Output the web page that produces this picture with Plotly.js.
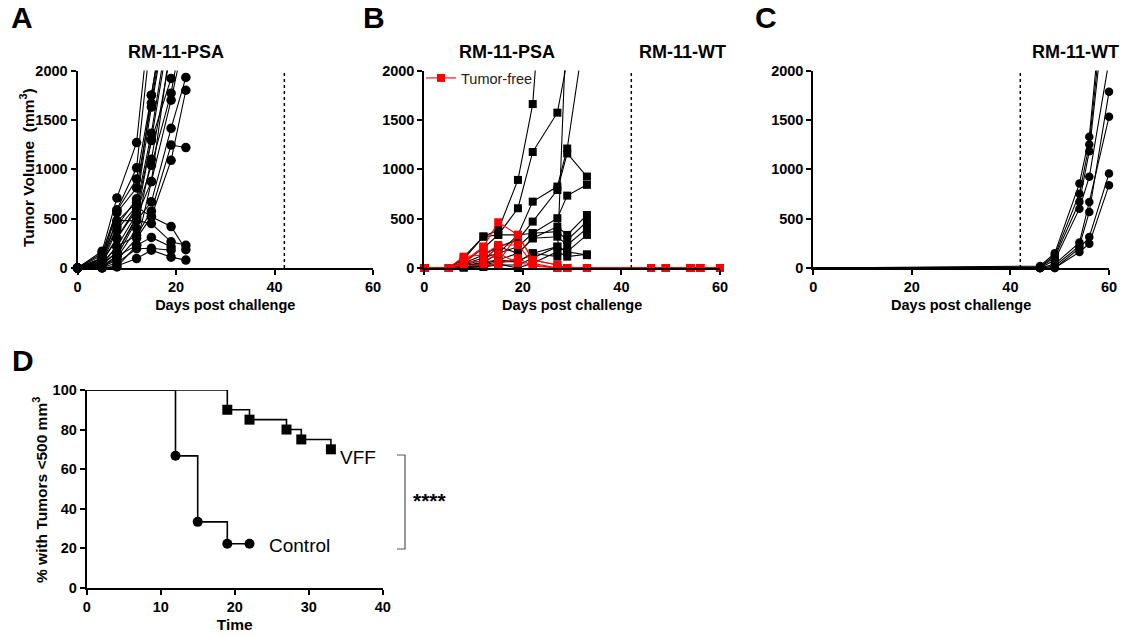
<!DOCTYPE html>
<html><head><meta charset="utf-8">
<script src="https://cdn.plot.ly/plotly-3.0.1.min.js"></script>
<style>html,body{margin:0;padding:0;background:#fff}#chart{width:1125px;height:637px}</style>
</head><body><div id="chart"></div>
<script>
// ---------- DATA ----------
const daysA = [0,5,8,12,15,19,22];
const miceA = [
  [0,170,710,1270,2700],
  [0,130,590,1015,2400],
  [0,150,580,900,1750,3000],
  [0,100,560,810,1670,2900],
  [0,90,470,665,1630,2800],
  [0,60,385,630,1365,2600],
  [0,70,300,590,1290,1920],
  [0,40,215,550,1040,1770,2600],
  [0,30,160,520,875,1700,2400],
  [0,20,120,480,670,1415,1930],
  [0,50,215,330,575,1245,1220],
  [0,10,80,300,520,1090,1800],
  [0,100,480,480,450,265,230],
  [0,60,300,620,520,420,185],
  [0,20,120,230,310,215],
  [0,5,50,195,200,180],
  [0,0,20,95,180,110,80],
  [0,0,10,230,875,2300],
  [0,40,160,500,1300,2500],
  [0,15,100,400,1100,2200],
  [0,80,420,700,1750,2900]
];
const daysB = [0,5,8,12,15,19,22,27,29,33];
const miceB = [
  [0,0,110,320,385,892,1660,5000],
  [0,0,90,317,335,605,1175,1573,2100],
  [0,0,60,200,335,335,672,825,1210,2550],
  [0,0,50,132,216,284,470,790,1160,926],
  [0,0,40,100,149,216,352,504,733,842],
  [0,0,30,80,216,149,301,419,335,537],
  [0,0,20,60,81,64,149,115,2700],
  [0,0,20,50,149,335,352,368,284,470],
  [0,0,10,40,81,149,301,317,233,402],
  [0,0,10,30,64,64,149,216,165,335],
  [0,0,5,20,40,0,48,165,115,139],
  [0,0,5,10,30,30,100,216,165,130]
];
const daysBfree = [0,5,8,12,15,19,22,27,29,33,46,49,54,56,60];
const miceBfree = [
  [0,0,64,216,463,335,81,30,0,0,0,0,0,0,0],
  [0,0,115,132,233,233,48,0,0,0,0,0,0,0,0],
  [0,0,64,64,149,50,30,0,0,0,0,0,0,0,0],
  [0,0,40,216,64,335,81,30,0,0,0,0,0,0,0],
  [0,0,20,30,40,100,20,0,0,0,0,0,0,0,0]
];
const daysC = [0,46,49,54,56,60];
const miceC = [
  [0,20,150,855,1328,3400],
  [0,10,130,753,1251,3200],
  [0,5,110,670,1183,3000],
  [0,0,80,601,923,2100],
  [0,0,40,257,669,1531],
  [0,0,20,223,568,1785],
  [0,0,0,200,314,956],
  [0,0,0,162,246,839]
];
const timeVFF = [0,19,22,27,29,33];
const survVFF = [100,90,85,80,75,70];
const timeControl = [0,12,15,19,22];
const survControl = [100,66.7,33.3,22.2,22.2];
const challengeDay = 42;
const legendLabel = 'Tumor-free';

// ---------- STYLE ----------
const FONT = 'Liberation Sans, Arial, sans-serif';
const W = 1125, H = 637;
const dx = (a,b)=>[a/W, b/W];
const dy = (top,bottom)=>[1-bottom/H, 1-top/H];
const YMAX = 2000;

function sizes(xs, ys, s, hideZeroDay){
  return ys.map((v,i)=> (v>YMAX || (hideZeroDay && xs[i]===0)) ? 0 : s);
}
function mk(symbol, color, size){
  return {symbol:symbol, color:color, size:size, opacity:1, line:{width:0}};
}
const traces = [];
miceA.forEach(y=>traces.push({x:daysA, y:y, xaxis:'x', yaxis:'y', type:'scatter', mode:'lines+markers',
  line:{color:'#000', width:1.1}, marker:mk('circle','#000',sizes(daysA,y,9.5)),
  cliponaxis:false, showlegend:false, hoverinfo:'skip'}));
miceB.forEach(y=>traces.push({x:daysB, y:y, xaxis:'x2', yaxis:'y2', type:'scatter', mode:'lines+markers',
  line:{color:'#000', width:1.1}, marker:mk('square','#000',sizes(daysB,y,8)),
  cliponaxis:false, showlegend:false, hoverinfo:'skip'}));
miceBfree.forEach((y,i)=>traces.push({x:daysBfree, y:y, xaxis:'x2', yaxis:'y2', type:'scatter', mode:'lines+markers',
  name: legendLabel, line:{color:'#ff0000', width:1.1}, marker:mk('square','#ff0000',sizes(daysBfree,y,8)),
  cliponaxis:false, showlegend:i===0, hoverinfo:'skip'}));
miceC.forEach(y=>traces.push({x:daysC, y:y, xaxis:'x3', yaxis:'y3', type:'scatter', mode:'lines+markers',
  line:{color:'#000', width:1.1}, marker:mk('circle','#000',sizes(daysC,y,8.5,true)),
  cliponaxis:false, showlegend:false, hoverinfo:'skip'}));
traces.push({x:timeVFF, y:survVFF, xaxis:'x4', yaxis:'y4', type:'scatter', mode:'lines+markers',
  line:{color:'#000', width:1.6, shape:'hv'}, marker:mk('square','#000',timeVFF.map(t=>t===0?0:10)),
  cliponaxis:false, showlegend:false, hoverinfo:'skip'});
traces.push({x:timeControl, y:survControl, xaxis:'x4', yaxis:'y4', type:'scatter', mode:'lines+markers',
  line:{color:'#000', width:1.6, shape:'hv'}, marker:mk('circle','#000',timeControl.map(t=>t===0?0:10)),
  cliponaxis:false, showlegend:false, hoverinfo:'skip'});

function ax(extra){
  return Object.assign({showline:true, linewidth:2, linecolor:'#000', ticks:'outside', ticklen:5, tickwidth:2,
    tickcolor:'#000', showgrid:false, zeroline:false, fixedrange:true,
    tickfont:{family:FONT, size:14.5, color:'#000', weight:'bold'}}, extra);
}
const xTitle = {text:'Days post challenge', font:{family:FONT, size:14.5, color:'#000', weight:'bold'}, standoff:5};
const topY = 70.5, botY = 268;
const layout = {
  width:W, height:H, margin:{l:0,r:0,t:0,b:0}, paper_bgcolor:'#fff', plot_bgcolor:'rgba(0,0,0,0)',
  xaxis: ax({domain:dx(77.5,373), range:[0,60], tickvals:[0,20,40,60], anchor:'y', title:xTitle}),
  yaxis: ax({domain:dy(topY,botY), range:[0,2000], tickvals:[0,500,1000,1500,2000], anchor:'x'}),
  xaxis2: ax({domain:dx(424.3,720), range:[0,60], tickvals:[0,20,40,60], anchor:'y2', title:xTitle}),
  yaxis2: ax({domain:dy(topY,botY), range:[0,2000], tickvals:[0,500,1000,1500,2000], anchor:'x2'}),
  xaxis3: ax({domain:dx(813.3,1109), range:[0,60], tickvals:[0,20,40,60], anchor:'y3', title:xTitle}),
  yaxis3: ax({domain:dy(topY,botY), range:[0,2000], tickvals:[0,500,1000,1500,2000], anchor:'x3'}),
  xaxis4: ax({domain:dx(86.7,382.7), range:[0,40], tickvals:[0,10,20,30,40], anchor:'y4',
    title:{text:'Time', font:{family:FONT, size:15.5, color:'#000', weight:'bold'}, standoff:5}}),
  yaxis4: ax({domain:dy(390,587.7), range:[0,100], tickvals:[0,20,40,60,80,100], anchor:'x4'}),
  showlegend:true,
  legend:{x:421/W, y:1-62/H, xanchor:'left', yanchor:'top', bgcolor:'rgba(0,0,0,0)',
    font:{family:FONT, size:14.5, color:'#222'}, itemwidth:30},
  shapes:[
    {type:'line', xref:'x', yref:'y', x0:challengeDay, x1:challengeDay, y0:0, y1:2000, line:{color:'#000', width:1.5, dash:'dot'}},
    {type:'line', xref:'x2', yref:'y2', x0:challengeDay, x1:challengeDay, y0:0, y1:2000, line:{color:'#000', width:1.5, dash:'dot'}},
    {type:'line', xref:'x3', yref:'y3', x0:challengeDay, x1:challengeDay, y0:0, y1:2000, line:{color:'#000', width:1.5, dash:'dot'}},
    {type:'path', xref:'paper', yref:'paper', path:`M ${397/W} ${1-455/H} L ${405/W} ${1-455/H} L ${405/W} ${1-549/H} L ${397/W} ${1-549/H}`, line:{color:'#555', width:1.2}}
  ],
  annotations:[
    {text:'<b>A</b>', x:22/W, y:1-18/H},
    {text:'<b>B</b>', x:374/W, y:1-18/H},
    {text:'<b>C</b>', x:766/W, y:1-18/H},
    {text:'<b>D</b>', x:23/W, y:1-360/H}
  ].map(a=>Object.assign({xref:'paper', yref:'paper', showarrow:false, xanchor:'center', yanchor:'middle',
      font:{family:FONT, size:30, color:'#000'}}, a)).concat([
    {text:'RM-11-PSA', x:176/W, y:1-52/H},
    {text:'RM-11-PSA', x:507/W, y:1-52/H},
    {text:'RM-11-WT', x:682/W, y:1-52/H},
    {text:'RM-11-WT', x:1075/W, y:1-52/H}
  ].map(a=>Object.assign({xref:'paper', yref:'paper', showarrow:false, xanchor:'center', yanchor:'middle',
      font:{family:FONT, size:18, color:'#000', weight:'bold'}}, a))).concat([
    {text:'Tumor Volume  (mm<sup>3</sup>)', x:27/W, y:1-168/H, textangle:-90, font:{family:FONT, size:15.5, color:'#000', weight:'bold'}},
    {text:'% with Tumors <500 mm<sup>3</sup>', x:40/W, y:1-490/H, textangle:-90, font:{family:FONT, size:15.5, color:'#000', weight:'bold'}},
    {text:'VFF', x:358/W, y:1-457/H, font:{family:FONT, size:19, color:'#000'}},
    {text:'Control', x:299/W, y:1-545/H, font:{family:FONT, size:19, color:'#000'}},
    {text:'****', x:430/W, y:1-500/H, font:{family:FONT, size:21, color:'#000', weight:'bold'}}
  ].map(a=>Object.assign({xref:'paper', yref:'paper', showarrow:false, xanchor:'center', yanchor:'middle'}, a)))
};
Plotly.newPlot('chart', traces, layout, {displayModeBar:false, staticPlot:true});
</script></body></html>
